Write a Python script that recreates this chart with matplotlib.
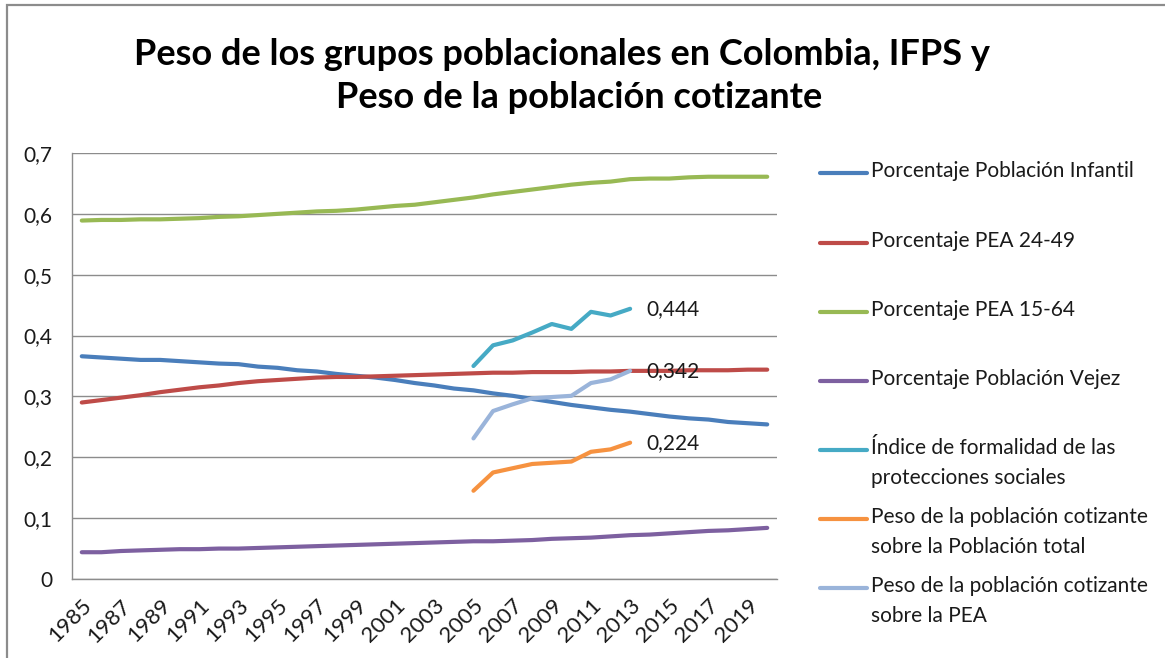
import numpy as np
import matplotlib
matplotlib.use('Agg')
import matplotlib.pyplot as plt
from matplotlib.lines import Line2D
from matplotlib.patches import Rectangle

matplotlib.rcParams['font.family'] = ['Lato', 'DejaVu Sans']

# Years on the category axis
years = list(range(1985, 2021))
years_cot = list(range(2005, 2014))

# Series
infantil = [0.366, 0.364, 0.362, 0.360, 0.360, 0.358, 0.356, 0.354, 0.353, 0.349,
            0.347, 0.343, 0.341, 0.337, 0.334, 0.331, 0.327, 0.322, 0.318, 0.313,
            0.310, 0.305, 0.301, 0.296, 0.291, 0.286, 0.282, 0.278, 0.275, 0.271,
            0.267, 0.264, 0.262, 0.258, 0.256, 0.254]
pea_24_49 = [0.290, 0.294, 0.298, 0.302, 0.307, 0.311, 0.315, 0.318, 0.322, 0.325,
             0.327, 0.329, 0.331, 0.332, 0.332, 0.333, 0.334, 0.335, 0.336, 0.337,
             0.338, 0.339, 0.339, 0.340, 0.340, 0.340, 0.341, 0.341, 0.342, 0.342,
             0.342, 0.343, 0.343, 0.343, 0.344, 0.344]
pea_15_64 = [0.589, 0.590, 0.590, 0.591, 0.591, 0.592, 0.593, 0.595, 0.596, 0.598,
             0.600, 0.602, 0.604, 0.605, 0.607, 0.610, 0.613, 0.615, 0.619, 0.623,
             0.627, 0.632, 0.636, 0.640, 0.644, 0.648, 0.651, 0.653, 0.657, 0.658,
             0.658, 0.660, 0.661, 0.661, 0.661, 0.661]
vejez = [0.044, 0.044, 0.046, 0.047, 0.048, 0.049, 0.049, 0.050, 0.050, 0.051,
         0.052, 0.053, 0.054, 0.055, 0.056, 0.057, 0.058, 0.059, 0.060, 0.061,
         0.062, 0.062, 0.063, 0.064, 0.066, 0.067, 0.068, 0.070, 0.072, 0.073,
         0.075, 0.077, 0.079, 0.080, 0.082, 0.084]
ifps = [0.350, 0.384, 0.392, 0.405, 0.419, 0.411, 0.439, 0.433, 0.444]
cot_total = [0.145, 0.175, 0.182, 0.189, 0.191, 0.193, 0.209, 0.213, 0.224]
cot_pea = [0.231, 0.276, 0.287, 0.297, 0.299, 0.301, 0.322, 0.328, 0.342]

labels = ['Porcentaje Población Infantil',
          'Porcentaje PEA 24-49',
          'Porcentaje PEA 15-64',
          'Porcentaje Población Vejez',
          'Índice de formalidad de las\nprotecciones sociales',
          'Peso de la población cotizante\nsobre la Población total',
          'Peso de la población cotizante\nsobre la PEA']
colors = ['#4A7EBB', '#BE4B48', '#98B954', '#7D60A0', '#46AAC5', '#F69240', '#9AB4DA']

title_lines = ['Peso de los grupos poblacionales en Colombia, IFPS y',
               'Peso de la población cotizante']

x_all = np.arange(len(years))
x_cot = np.array([years.index(y) for y in years_cot])

fig = plt.figure(figsize=(11.65, 6.58), dpi=100)
ax = fig.add_axes([72 / 1165, 1 - 579 / 658, 705 / 1165, 426 / 658])

series = [(x_all, infantil), (x_all, pea_24_49), (x_all, pea_15_64), (x_all, vejez),
          (x_cot, ifps), (x_cot, cot_total), (x_cot, cot_pea)]
for (xs, ys), c in zip(series, colors):
    ax.plot(xs, ys, color=c, lw=3.0, solid_capstyle='round', zorder=3)

# data labels on the last point of the short series
for ys in [ifps, cot_pea, cot_total]:
    ax.annotate(('%.3f' % ys[-1]).replace('.', ','), (x_cot[-1], ys[-1]),
                xytext=(12, 0), textcoords='offset points', va='center', ha='left',
                fontsize=15, color='#1a1a1a', zorder=4)

ax.set_xlim(-0.5, len(years) - 0.5)
ax.set_ylim(0, 0.7)
yt = np.arange(0, 0.71, 0.1)
ax.set_yticks(yt)
ax.set_yticklabels(['0'] + [('%.1f' % v).replace('.', ',') for v in yt[1:]], fontsize=15)
ax.set_xticks(x_all[::2])
ax.set_xticklabels([str(y) for y in years[::2]], rotation=45, ha='right', va='top',
                   rotation_mode='anchor', fontsize=16)
ax.tick_params(length=0, colors='#1a1a1a')
ax.tick_params(axis='y', pad=14)
ax.tick_params(axis='x', pad=12)
ax.grid(axis='y', color='#8c8c8c', lw=1.0, zorder=0)
for s in ['top', 'right']:
    ax.spines[s].set_visible(False)
for s in ['left', 'bottom']:
    ax.spines[s].set_color('#8c8c8c')
    ax.spines[s].set_linewidth(1.0)

# title, two lines centred a little differently as in the original
for txt, cx, by in zip(title_lines, [562, 579], [65, 108]):
    fig.text(cx / 1165, 1 - by / 658, txt, ha='center', va='baseline',
             fontsize=26, fontweight='bold')

# legend drawn by hand so the key sits on the first text line
leg_y = [173, 243, 312, 381, 450, 519, 588]
for lab, c, yy in zip(labels, colors, leg_y):
    fy = 1 - yy / 658
    fig.add_artist(Line2D([820 / 1165, 867 / 1165], [fy, fy], color=c, lw=3.0,
                          solid_capstyle='round', transform=fig.transFigure))
    fig.text(871 / 1165, fy + 12 / 658, lab, ha='left', va='top', fontsize=15,
             color='#1a1a1a', linespacing=1.6)

# outer chart border
fig.add_artist(Rectangle((7 / 1165, -0.05), 1.1, 1 - 5 / 658 + 0.05, transform=fig.transFigure,
                         fill=False, ec='#8c8c8c', lw=1.6))

fig.savefig('out.png', dpi=100)
